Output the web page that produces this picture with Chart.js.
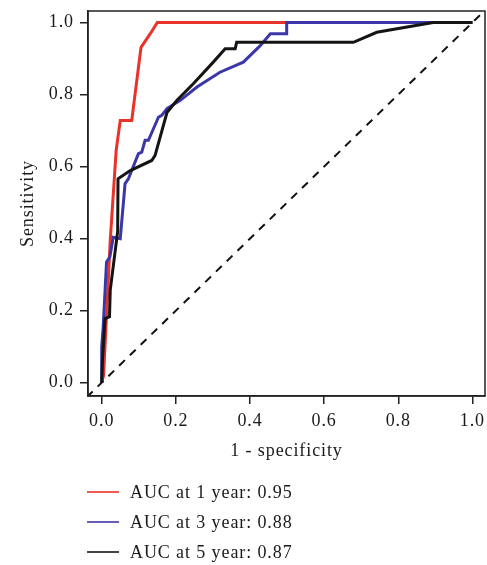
<!DOCTYPE html>
<html>
<head>
<meta charset="utf-8">
<script src="https://cdn.jsdelivr.net/npm/chart.js@4.4.1/dist/chart.umd.min.js"></script>
<style>
  html, body { margin: 0; padding: 0; background: #ffffff; }
  canvas { display: block; }
</style>
</head>
<body>
<canvas id="c" width="487" height="565"></canvas>
<script>
// ----- data -----
const seriesLabels = ['AUC at 1 year: 0.95', 'AUC at 3 year: 0.88', 'AUC at 5 year: 0.87'];
const seriesColors = ['#e8332a', '#3b37a8', '#141414'];

const fpr1 = [0, 0.005, 0.023, 0.039, 0.050, 0.081, 0.106, 0.131, 0.150, 1.0];
const tpr1 = [0, 0.02, 0.395, 0.645, 0.728, 0.728, 0.931, 0.969, 1.0, 1.0];

const fpr3 = [0, 0, 0.004, 0.013, 0.022, 0.031, 0.050, 0.063, 0.072, 0.099, 0.108, 0.117, 0.126, 0.153, 0.162, 0.176, 0.212, 0.257, 0.319, 0.382, 0.427, 0.455, 0.499, 0.499, 1.0];
const tpr3 = [0, 0.10, 0.155, 0.335, 0.349, 0.404, 0.40, 0.553, 0.566, 0.636, 0.640, 0.673, 0.673, 0.737, 0.742, 0.761, 0.784, 0.821, 0.862, 0.890, 0.935, 0.969, 0.969, 1.0, 1.0];

const fpr5 = [0, 0.002, 0.009, 0.021, 0.023, 0.043, 0.044, 0.077, 0.135, 0.144, 0.176, 0.203, 0.247, 0.301, 0.333, 0.360, 0.364, 0.679, 0.742, 0.894, 1.0];
const tpr5 = [0, 0.062, 0.178, 0.183, 0.257, 0.420, 0.566, 0.589, 0.617, 0.631, 0.750, 0.784, 0.830, 0.890, 0.927, 0.927, 0.945, 0.945, 0.973, 1.0, 1.0];

const refX = [-0.04, 1.04];
const refY = [-0.04, 1.04];

const tickValues = [0, 0.2, 0.4, 0.6, 0.8, 1.0];
const xTitle = '1 - specificity';
const yTitle = 'Sensitivity';

// ----- build datasets -----
function pts(xs, ys) { return xs.map((x, i) => ({ x: x, y: ys[i] })); }

const FONT = "'Liberation Serif', 'Times New Roman', serif";
const FSIZE = 18;
const SPACING = '0.9px';

const spacing = {
  id: 'spacing',
  beforeLayout(chart) { chart.ctx.letterSpacing = SPACING; },
  beforeDraw(chart) { chart.ctx.letterSpacing = SPACING; }
};

const frame = {
  id: 'frame',
  afterDatasetsDraw(chart) {
    const a = chart.chartArea, ctx = chart.ctx;
    ctx.save();
    ctx.strokeStyle = '#222';
    ctx.lineWidth = 1.5;
    ctx.strokeRect(a.left, a.top, a.right - a.left, a.bottom - a.top);
    ctx.restore();
  }
};

const bottomLegend = {
  id: 'bottomLegend',
  afterDraw(chart) {
    const ctx = chart.ctx;
    ctx.save();
    ctx.letterSpacing = SPACING;
    ctx.font = FSIZE + "px " + FONT;
    ctx.textBaseline = 'middle';
    ctx.textAlign = 'left';
    seriesLabels.forEach((lab, i) => {
      const y = 492 + i * 30;
      ctx.strokeStyle = seriesColors[i];
      ctx.lineWidth = 1.6;
      ctx.beginPath();
      ctx.moveTo(87, y);
      ctx.lineTo(119, y);
      ctx.stroke();
      ctx.fillStyle = '#1a1a1a';
      ctx.fillText(lab, 130, y + 1);
    });
    ctx.restore();
  }
};

const ds = [
  { label: seriesLabels[0], data: pts(fpr1, tpr1), borderColor: seriesColors[0], order: 4 },
  { label: seriesLabels[1], data: pts(fpr3, tpr3), borderColor: seriesColors[1], order: 3 },
  { label: seriesLabels[2], data: pts(fpr5, tpr5), borderColor: seriesColors[2], order: 2 },
  { label: 'ref', data: pts(refX, refY), borderColor: '#111', borderDash: [8, 7], borderWidth: 2, order: 1 }
].map(d => Object.assign({ borderWidth: 3, pointRadius: 0, fill: false, tension: 0, borderJoinStyle: 'miter' }, d));

new Chart(document.getElementById('c'), {
  type: 'line',
  data: { datasets: ds },
  options: {
    responsive: false,
    animation: false,
    layout: { padding: { left: 0, top: 11, right: 2, bottom: 99 } },
    plugins: { legend: { display: false }, tooltip: { enabled: false } },
    scales: {
      x: {
        type: 'linear',
        min: -0.037, max: 1.034,
        afterBuildTicks: s => { s.ticks = tickValues.map(v => ({ value: v })); },
        afterFit: s => { s.height = 70; s.paddingLeft = 0; s.paddingRight = 0; },
        ticks: { color: '#1a1a1a', font: { family: FONT, size: FSIZE }, padding: 6, maxRotation: 0,
                 callback: v => Number(v).toFixed(1) },
        grid: { drawOnChartArea: false, drawTicks: true, tickLength: 8, color: '#222', lineWidth: 1.5 },
        border: { display: true, color: '#222', width: 1.5 },
        title: { display: true, text: xTitle, color: '#1a1a1a', font: { family: FONT, size: FSIZE }, padding: { top: 0, bottom: 4 } }
      },
      y: {
        type: 'linear',
        min: -0.037, max: 1.032,
        afterBuildTicks: s => { s.ticks = tickValues.map(v => ({ value: v })); },
        afterFit: s => { s.width = 88; s.paddingTop = 0; s.paddingBottom = 0; },
        ticks: { color: '#1a1a1a', font: { family: FONT, size: FSIZE }, padding: 6,
                 callback: v => Number(v).toFixed(1) },
        grid: { drawOnChartArea: false, drawTicks: true, tickLength: 8, color: '#222', lineWidth: 1.5 },
        border: { display: true, color: '#222', width: 1.5 },
        title: { display: true, text: yTitle, color: '#1a1a1a', font: { family: FONT, size: FSIZE }, padding: { top: 17, bottom: 0 } }
      }
    }
  },
  plugins: [spacing, frame, bottomLegend]
});
</script>
</body>
</html>
